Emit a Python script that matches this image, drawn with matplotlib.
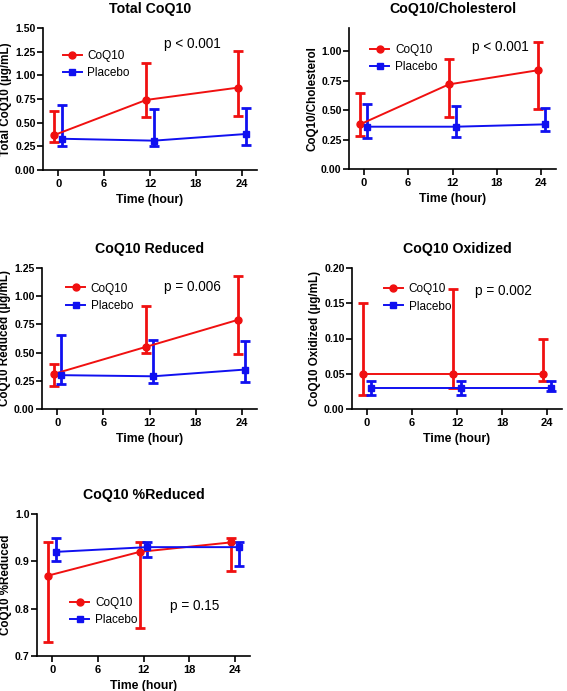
import matplotlib
matplotlib.use("Agg")
import matplotlib.pyplot as plt
from matplotlib.lines import Line2D

plt.rcParams['font.family'] = ['Liberation Sans', 'DejaVu Sans']

hours = [0, 12, 24]

# Total CoQ10 (ug/mL)
tot_coq = [0.37, 0.74, 0.87]
tot_coq_lo = [0.30, 0.56, 0.57]
tot_coq_hi = [0.62, 1.13, 1.26]
tot_pla = [0.33, 0.31, 0.38]
tot_pla_lo = [0.25, 0.25, 0.26]
tot_pla_hi = [0.69, 0.64, 0.66]

# CoQ10/Cholesterol
chol_coq = [0.38, 0.72, 0.84]
chol_coq_lo = [0.28, 0.44, 0.51]
chol_coq_hi = [0.65, 0.94, 1.08]
chol_pla = [0.36, 0.36, 0.38]
chol_pla_lo = [0.26, 0.27, 0.32]
chol_pla_hi = [0.55, 0.54, 0.52]

# CoQ10 reduced (ug/mL)
red_coq = [0.31, 0.55, 0.79]
red_coq_lo = [0.20, 0.50, 0.49]
red_coq_hi = [0.40, 0.91, 1.18]
red_pla = [0.30, 0.29, 0.35]
red_pla_lo = [0.22, 0.23, 0.24]
red_pla_hi = [0.66, 0.61, 0.60]

# CoQ10 oxidized (ug/mL)
ox_coq = [0.05, 0.05, 0.05]
ox_coq_lo = [0.02, 0.03, 0.04]
ox_coq_hi = [0.15, 0.17, 0.10]
ox_pla = [0.03, 0.03, 0.03]
ox_pla_lo = [0.02, 0.02, 0.025]
ox_pla_hi = [0.04, 0.04, 0.04]

# CoQ10 %reduced
pct_coq = [0.87, 0.92, 0.94]
pct_coq_lo = [0.73, 0.76, 0.88]
pct_coq_hi = [0.94, 0.94, 0.95]
pct_pla = [0.92, 0.93, 0.93]
pct_pla_lo = [0.90, 0.91, 0.89]
pct_pla_hi = [0.95, 0.94, 0.94]

RED = '#f01010'
BLUE = '#1010f0'

W, H = 567, 691
fig = plt.figure(figsize=(W / 100, H / 100), dpi=100)


def panel(box, title, ylabel, ylim, yticks, yfmt, coq, coq_lo, coq_hi,
          pla, pla_lo, pla_hi, ptext, leg_xy, p_xy):
    x0, y0, x1, y1 = box  # pixel box, top-left origin
    ax = fig.add_axes([x0 / W, 1 - y1 / H, (x1 - x0) / W, (y1 - y0) / H])
    xr = [h - 0.5 for h in hours]
    xb = [h + 0.5 for h in hours]
    ax.errorbar(xr, coq,
                yerr=[[m - l for m, l in zip(coq, coq_lo)],
                      [h - m for m, h in zip(coq, coq_hi)]],
                color=RED, marker='o', ms=5, lw=1.4, elinewidth=2,
                capsize=3.5, capthick=2, zorder=3)
    ax.errorbar(xb, pla,
                yerr=[[m - l for m, l in zip(pla, pla_lo)],
                      [h - m for m, h in zip(pla, pla_hi)]],
                color=BLUE, marker='s', ms=5, lw=1.4, elinewidth=2,
                capsize=3.5, capthick=2, zorder=3)
    ax.set_xlim(-2, 26)
    ax.set_ylim(*ylim)
    ax.set_xticks([0, 6, 12, 18, 24])
    ax.set_yticks(yticks)
    ax.set_yticklabels([yfmt.format(v) for v in yticks])
    for s in ['top', 'right']:
        ax.spines[s].set_visible(False)
    for s in ['left', 'bottom']:
        ax.spines[s].set_linewidth(1.2)
    ax.tick_params(width=1.2, length=4.5, labelsize=7.6, pad=0.8)
    ax.tick_params(axis='x', labelsize=8, pad=2)
    for lab in ax.get_xticklabels() + ax.get_yticklabels():
        lab.set_fontweight('bold')
    ax.set_xlabel('Time (hour)', fontsize=8.8, fontweight='bold', labelpad=3.5)
    ax.set_ylabel(ylabel, fontsize=8.4, fontweight='bold', labelpad=2)
    ax.set_title(title, fontsize=10.2, fontweight='bold', pad=11)
    handles = [Line2D([], [], color=RED, marker='o', ms=5, lw=1.4),
               Line2D([], [], color=BLUE, marker='s', ms=5, lw=1.4)]
    ax.legend(handles, ['CoQ10', 'Placebo'], loc='upper left',
              bbox_to_anchor=leg_xy, frameon=False, fontsize=8.5,
              handlelength=1.6, handletextpad=0.5, labelspacing=0.45,
              borderaxespad=0)
    ax.text(p_xy[0], p_xy[1], ptext, transform=ax.transAxes, fontsize=9.8,
            ha='center', va='center')
    return ax


panel((43, 28, 257, 170), 'Total CoQ10', 'Total CoQ10 (\u00b5g/mL)',
      (0, 1.5), [0, 0.25, 0.5, 0.75, 1.0, 1.25, 1.5], '{:.2f}',
      tot_coq, tot_coq_lo, tot_coq_hi, tot_pla, tot_pla_lo, tot_pla_hi,
      'p < 0.001', (0.07, 0.88), (0.70, 0.89))

panel((349, 28, 556, 169), 'CoQ10/Cholesterol', 'CoQ10/Cholesterol',
      (0, 1.2), [0, 0.25, 0.5, 0.75, 1.0], '{:.2f}',
      chol_coq, chol_coq_lo, chol_coq_hi, chol_pla, chol_pla_lo, chol_pla_hi,
      'p < 0.001', (0.08, 0.92), (0.73, 0.865))

panel((42, 268, 257, 409), 'CoQ10 Reduced', 'CoQ10 Reduced (\u00b5g/mL)',
      (0, 1.25), [0, 0.25, 0.5, 0.75, 1.0, 1.25], '{:.2f}',
      red_coq, red_coq_lo, red_coq_hi, red_pla, red_pla_lo, red_pla_hi,
      'p = 0.006', (0.09, 0.93), (0.70, 0.865))

panel((352, 268, 562, 409), 'CoQ10 Oxidized', 'CoQ10 Oxidized (\u00b5g/mL)',
      (0, 0.2), [0, 0.05, 0.1, 0.15, 0.2], '{:.2f}',
      ox_coq, ox_coq_lo, ox_coq_hi, ox_pla, ox_pla_lo, ox_pla_hi,
      'p = 0.002', (0.13, 0.925), (0.72, 0.84))

panel((37, 514, 250, 656), 'CoQ10 %Reduced', 'CoQ10 %Reduced',
      (0.7, 1.0), [0.7, 0.8, 0.9, 1.0], '{:.1f}',
      pct_coq, pct_coq_lo, pct_coq_hi, pct_pla, pct_pla_lo, pct_pla_hi,
      'p = 0.15', (0.135, 0.45), (0.74, 0.35))

fig.savefig('out.png', dpi=100)
